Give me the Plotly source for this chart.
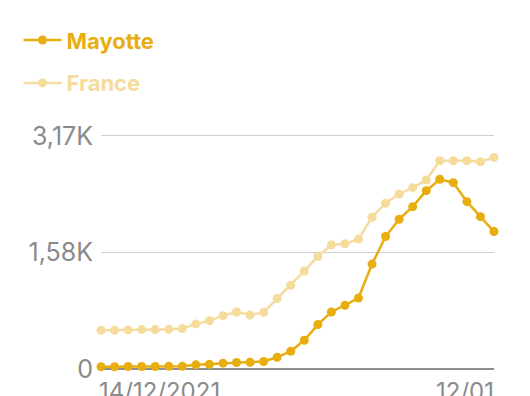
import plotly.graph_objects as go
import pandas as pd

dates = pd.date_range("2021-12-14", "2022-01-12", freq="D").strftime("%Y-%m-%d").tolist()

mayotte = [30, 30, 34, 34, 34, 38, 38, 57, 65, 79, 88, 92, 102, 160, 241, 391,
           604, 776, 866, 966, 1427, 1802, 2038, 2209, 2426, 2581, 2535, 2277, 2073, 1870]
france = [526, 526, 532, 536, 536, 540, 550, 613, 658, 726, 776, 735, 770, 959, 1140, 1334,
          1531, 1689, 1703, 1767, 2065, 2255, 2381, 2467, 2571, 2833, 2833, 2833, 2820, 2879]

y_tickvals = [0, 1585, 3170]
y_ticktext = ["0", "1,58K", "3,17K"]
x_label_dates = [dates[0], dates[-1]]
x_label_texts = ["14/12/2021", "12/01"]

dark = "#E8AE10"
light = "#F5DC9C"
FONT = "Inter, Roboto, 'Noto Sans', sans-serif"

# the page body adds an 8px offset, so figure coordinates are shifted by -8
OFF = 8
W, H = 530, 396
L = 101 - OFF
R = W - (494 - OFF)
top_grid = 136 - OFF
zero_y = 369.5 - OFF
T = top_grid - 4
B = H - zero_y
plot_h = H - T - B
plot_w = W - L - R
ymax = 3170 * plot_h / (zero_y - top_grid)

fig = go.Figure()
fig.add_trace(go.Scatter(
    x=dates, y=france, mode="lines+markers", name="France",
    line=dict(color=light, width=2.5), marker=dict(color=light, size=9),
    cliponaxis=False, legend="legend2", hoverinfo="skip"))
fig.add_trace(go.Scatter(
    x=dates, y=mayotte, mode="lines+markers", name="Mayotte",
    line=dict(color=dark, width=2.5), marker=dict(color=dark, size=9),
    cliponaxis=False, legend="legend", hoverinfo="skip"))

annotations = []
for d, t, anchor in zip(x_label_dates, x_label_texts, ["left", "right"]):
    annotations.append(dict(x=d, y=0, xref="x", yref="paper", text=t,
                            showarrow=False, xanchor=anchor, yanchor="top",
                            yshift=-6, xshift=-4 if anchor == "left" else 2,
                            font=dict(size=24, color="#8a8a8a", family=FONT)))

def leg(ycenter, color):
    return dict(x=(18.5 - OFF - L) / plot_w, y=1 + (T - (ycenter - OFF)) / plot_h,
                xanchor="left", yanchor="middle", xref="paper", yref="paper",
                itemwidth=38,
                font=dict(size=22, color=color, family=FONT, weight="bold"),
                bgcolor="rgba(0,0,0,0)")

fig.update_layout(
    width=W, height=H,
    margin=dict(l=L, r=R, t=T, b=B, autoexpand=False),
    paper_bgcolor="white", plot_bgcolor="white",
    font=dict(family=FONT),
    showlegend=True,
    legend=leg(40, dark),
    legend2=leg(83, light),
    xaxis=dict(range=[dates[0], dates[-1]], showgrid=False, showticklabels=False,
               zeroline=False, showline=False, ticks=""),
    yaxis=dict(range=[0, ymax], tickvals=y_tickvals, ticktext=y_ticktext,
               showgrid=True, gridcolor="#cfcfcf", gridwidth=1,
               zeroline=True, zerolinecolor="#8f8f8f", zerolinewidth=1.5,
               ticks="", ticklabelstandoff=7,
               tickfont=dict(size=25, color="#8a8a8a", family=FONT)),
    annotations=annotations,
)

fig.write_html("out.html")
